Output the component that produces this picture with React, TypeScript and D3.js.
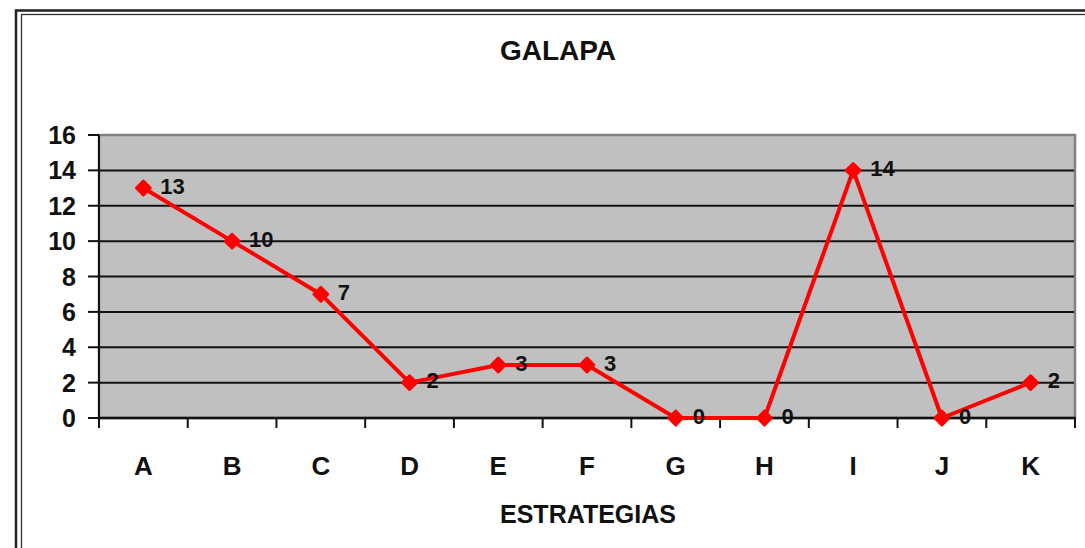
import React from "react";
import * as d3 from "d3";

const categories = ["A", "B", "C", "D", "E", "F", "G", "H", "I", "J", "K"];
const values = [13, 10, 7, 2, 3, 3, 0, 0, 14, 0, 2];
const yTicks = [0, 2, 4, 6, 8, 10, 12, 14, 16];
const title = "GALAPA";
const xTitle = "ESTRATEGIAS";

const W = 1085;
const H = 548;
const plot = { left: 99, right: 1075, top: 135, bottom: 418 };
const font = "'Liberation Sans', Arial, sans-serif";

export default function App() {
  const x = d3
    .scaleBand<string>()
    .domain(categories)
    .range([plot.left, plot.right])
    .padding(0);
  const y = d3.scaleLinear().domain([0, 16]).range([plot.bottom, plot.top]);
  const cx = (c: string) => (x(c) as number) + x.bandwidth() / 2;
  const line = d3
    .line<number>()
    .x((_, i) => cx(categories[i]))
    .y((v) => y(v));
  const marker = d3.symbol().type(d3.symbolSquare).size(95)();
  const bounds = categories.map((c) => x(c) as number).concat([plot.right]);

  return (
    <svg
      width={W}
      height={H}
      style={{ position: "absolute", left: 0, top: 0, display: "block" }}
      fontFamily={font}
    >
      <rect x={0} y={0} width={W} height={H} fill="#fff" />
      {/* double frame */}
      <rect x={16} y={10.5} width={W + 20} height={H + 20} fill="none" stroke="#222" strokeWidth={2.5} />
      <rect x={21.5} y={14.5} width={W + 20} height={H + 20} fill="none" stroke="#333" strokeWidth={1.3} />

      <text x={558} y={60} textAnchor="middle" fontSize={28} fontWeight="bold" fill="#111">
        {title}
      </text>

      {/* plot area */}
      <rect
        x={plot.left}
        y={plot.top}
        width={plot.right - plot.left}
        height={plot.bottom - plot.top}
        fill="#c0c0c0"
        stroke="#808080"
        strokeWidth={2.5}
      />
      {yTicks.map((t) => (
        <g key={t}>
          {t > 0 && t < 16 && (
            <line x1={plot.left} x2={plot.right - 1} y1={y(t)} y2={y(t)} stroke="#111" strokeWidth={2} />
          )}
          <line x1={plot.left - 11} x2={plot.left} y1={y(t)} y2={y(t)} stroke="#111" strokeWidth={2} />
          <text
            x={76}
            y={y(t)}
            dy="0.36em"
            textAnchor="end"
            fontSize={25}
            fontWeight="bold"
            fill="#111"
          >
            {t}
          </text>
        </g>
      ))}
      {/* axes */}
      <line x1={plot.left} x2={plot.left} y1={plot.top} y2={plot.bottom + 10} stroke="#111" strokeWidth={2} />
      <line x1={plot.left} x2={plot.right + 1} y1={plot.bottom} y2={plot.bottom} stroke="#111" strokeWidth={2.5} />
      {bounds.map((b, i) => (
        <line key={i} x1={b} x2={b} y1={plot.bottom} y2={plot.bottom + 10} stroke="#111" strokeWidth={2} />
      ))}
      {categories.map((c) => (
        <text
          key={c}
          x={cx(c)}
          y={475}
          textAnchor="middle"
          fontSize={26}
          fontWeight="bold"
          fill="#111"
        >
          {c}
        </text>
      ))}
      <text x={588} y={523} textAnchor="middle" fontSize={25} fontWeight="bold" fill="#111">
        {xTitle}
      </text>

      {/* series */}
      <path d={line(values) as string} fill="none" stroke="#ff0000" strokeWidth={4} strokeLinejoin="round" />
      {values.map((v, i) => (
        <path
          key={i}
          d={marker as string}
          transform={`translate(${cx(categories[i])},${y(v)}) rotate(45)`}
          fill="#ff0000"
          stroke="#ff0000"
          strokeWidth={3}
          strokeLinejoin="round"
        />
      ))}
      {values.map((v, i) => (
        <text
          key={i}
          x={cx(categories[i]) + 17}
          y={y(v) - 2}
          dy="0.35em"
          fontSize={22}
          fontWeight="bold"
          fill="#111"
        >
          {v}
        </text>
      ))}
    </svg>
  );
}
